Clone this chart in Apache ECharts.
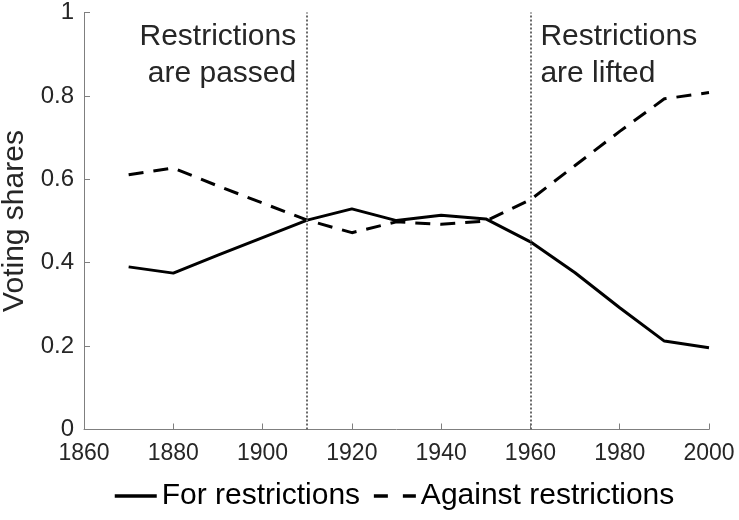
<!DOCTYPE html>
<html>
<head>
<meta charset="utf-8">
<script src="https://cdn.jsdelivr.net/npm/echarts@6/dist/echarts.min.js"></script>
<style>
  html, body { margin: 0; padding: 0; background: #fff; }
  #chart { width: 739px; height: 520px; }
</style>
</head>
<body>
<div id="chart"></div>
<script>
var years = [1870, 1880, 1890, 1900, 1910, 1920, 1930, 1940, 1950, 1960, 1970, 1980, 1990, 2000]
var forShare = [0.390, 0.375, 0.418, 0.460, 0.502, 0.529, 0.501, 0.514, 0.505, 0.450, 0.376, 0.292, 0.212, 0.196]
var againstShare = [0.611, 0.627, 0.584, 0.543, 0.502, 0.472, 0.498, 0.492, 0.500, 0.551, 0.633, 0.715, 0.793, 0.808]
var eventYears = [1910, 1960]
var eventTexts = ['Restrictions\nare passed', 'Restrictions\nare lifted']

function pairs (ys) {
  return years.map(function (y, i) { return [y, ys[i]] })
}

var font = 'Liberation Sans, Arial, sans-serif'
var chart = echarts.init(document.getElementById('chart'))

chart.setOption({
  animation: false,
  backgroundColor: '#fff',
  textStyle: { fontFamily: font },
  grid: { left: 84, right: 30, top: 12.5, bottom: 90.5, outerBoundsMode: 'none', containLabel: false },
  xAxis: {
    type: 'value',
    min: 1860,
    max: 2000,
    interval: 20,
    axisLine: { lineStyle: { color: '#7f7f7f', width: 1 } },
    axisTick: { inside: true, length: 6, lineStyle: { color: '#7f7f7f' } },
    axisLabel: { color: '#262626', fontSize: 23, margin: 13, fontFamily: font, formatter: function (v) { return String(v) } },
    splitLine: { show: false }
  },
  yAxis: {
    type: 'value',
    min: 0,
    max: 1,
    interval: 0.2,
    name: 'Voting shares',
    nameLocation: 'middle',
    nameGap: 45,
    nameTextStyle: { color: '#262626', fontSize: 30, fontFamily: font },
    axisLine: { show: true, lineStyle: { color: '#7f7f7f', width: 1 } },
    axisTick: { show: true, inside: true, length: 6, lineStyle: { color: '#7f7f7f' } },
    axisLabel: { color: '#262626', fontSize: 24, margin: 10, fontFamily: font },
    splitLine: { show: false }
  },
  legend: {
    bottom: 4,
    left: 108,
    itemWidth: 42,
    itemHeight: 14,
    itemGap: 12,
    itemStyle: { opacity: 0 },
    lineStyle: { width: 3.5 },
    textStyle: { color: '#000', fontSize: 30, fontFamily: font },
    data: [
      { name: 'For restrictions' },
      { name: 'Against restrictions', lineStyle: { type: [14, 15], width: 3.5 } }
    ]
  },
  series: [
    {
      name: 'For restrictions',
      type: 'line',
      data: pairs(forShare),
      symbol: 'none',
      lineStyle: { color: '#000', width: 3 },
      itemStyle: { color: '#000' },
      markLine: {
        silent: true,
        symbol: 'none',
        label: { show: false },
        lineStyle: { color: '#6a6a6a', type: [2, 2], width: 2 },
        data: eventYears.map(function (y) { return { xAxis: y } })
      },
      z: 3
    },
    {
      name: 'Against restrictions',
      type: 'line',
      data: pairs(againstShare),
      symbol: 'none',
      lineStyle: { color: '#000', width: 3, type: [15, 10] },
      itemStyle: { color: '#000' },
      z: 3
    }
  ]
})

// annotation text next to the dotted lines
var p1 = chart.convertToPixel({ gridIndex: 0 }, [eventYears[0], 1])
var p2 = chart.convertToPixel({ gridIndex: 0 }, [eventYears[1], 1])
chart.setOption({
  graphic: [
    {
      type: 'text',
      x: p1[0] - 11,
      y: p1[1] + 6,
      style: { text: eventTexts[0], font: '30px ' + font, fill: '#262626', align: 'right', verticalAlign: 'top', lineHeight: 37 }
    },
    {
      type: 'text',
      x: p2[0] + 10,
      y: p2[1] + 6,
      style: { text: eventTexts[1], font: '30px ' + font, fill: '#262626', align: 'left', verticalAlign: 'top', lineHeight: 37 }
    }
  ]
})
</script>
</body>
</html>
